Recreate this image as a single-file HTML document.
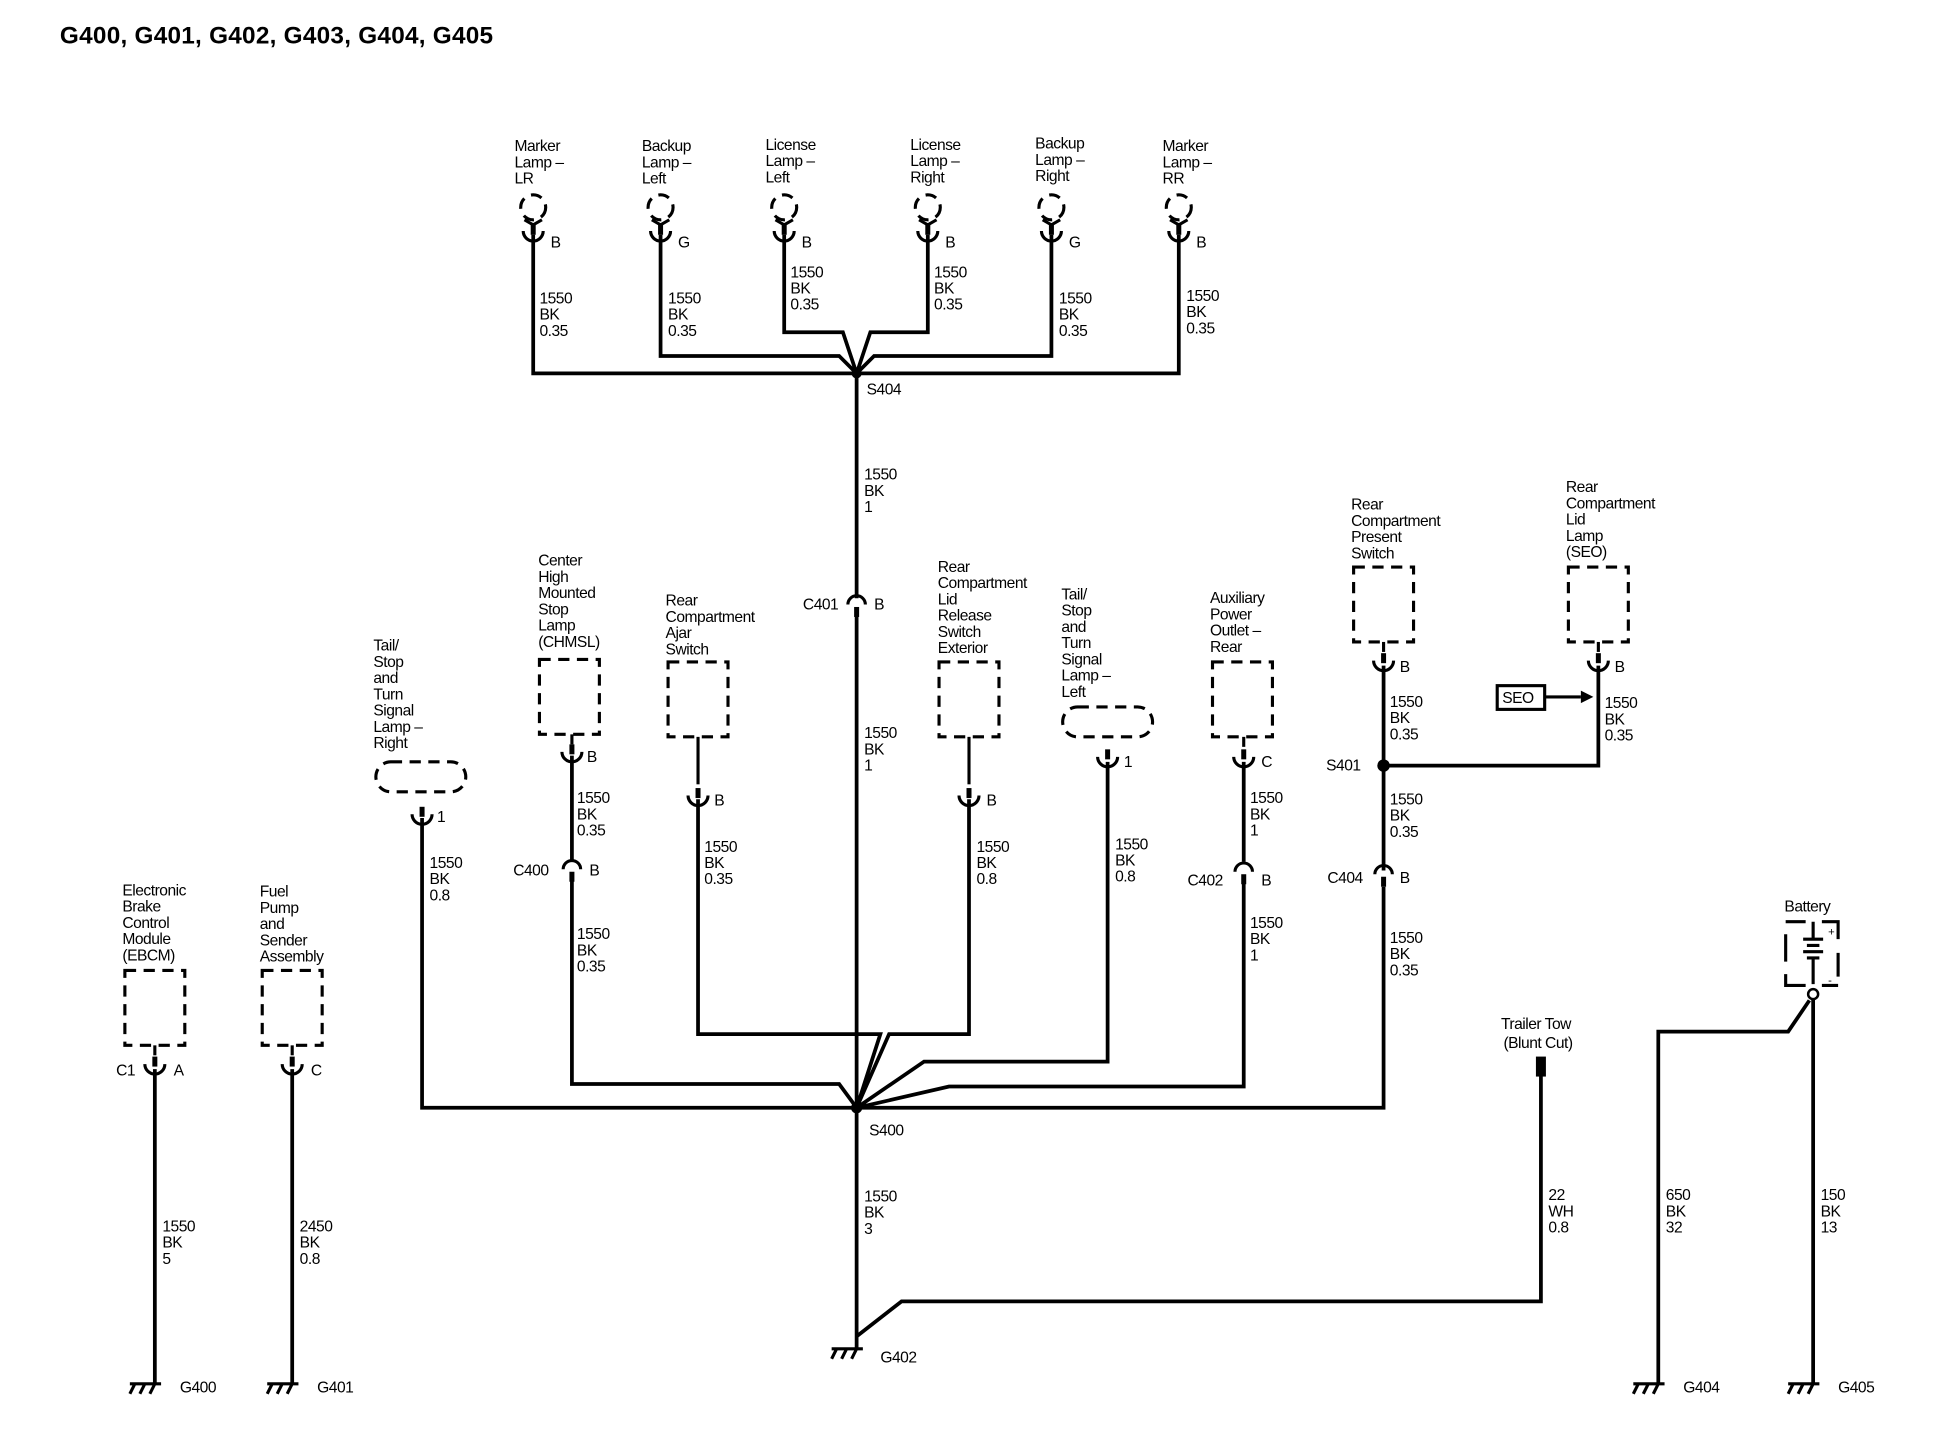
<!DOCTYPE html>
<html><head><meta charset="utf-8"><style>
html,body{margin:0;padding:0;background:#fff}
svg{display:block}
text{font-family:"Liberation Sans",Arial,sans-serif;font-size:12.5px;fill:#000;letter-spacing:-0.4px}
.w{stroke:#000;stroke-width:3;fill:none}
.d{stroke:#000;stroke-width:2.5;fill:none;stroke-dasharray:9 6}
.c{stroke:#000;stroke-width:2.5;fill:none}
</style></head><body>
<svg width="1948" height="1440" viewBox="0 0 1560 1153" preserveAspectRatio="none" xmlns="http://www.w3.org/2000/svg">
<defs>
<g id="lamp"><circle cx="0" cy="-22" r="10" class="d" stroke-dasharray="7 5"/><path d="M-7 -12 L0 -8 L7 -12" class="c"/><rect x="-2" y="-9" width="4" height="9"/><path d="M-8 -3 A8 8 0 0 0 8 -3" class="c"/></g>
<g id="cup"><rect x="-2" y="-10" width="4" height="8"/><path d="M-8 -4 A8 8 0 0 0 8 -4" class="c"/></g>
<g id="inl"><path d="M-7 6 A7 7 0 0 1 7 6" class="c"/><rect x="-2" y="8" width="4" height="8"/></g>
<g id="gnd"><path d="M-20 0 H5 M-16 0 l-4 8 M-8 0 l-4 8 M0 0 l-4 8" class="c"/></g>
</defs>
<text x="48" y="35" style="font-size:19.5px;font-weight:bold;letter-spacing:0.2px">G400, G401, G402, G403, G404, G405</text>

<g>
<text x="412" y="121"><tspan x="412">Marker</tspan><tspan x="412" dy="13">Lamp –</tspan><tspan x="412" dy="13">LR</tspan></text>
<text x="514" y="121"><tspan x="514">Backup</tspan><tspan x="514" dy="13">Lamp –</tspan><tspan x="514" dy="13">Left</tspan></text>
<text x="613" y="120"><tspan x="613">License</tspan><tspan x="613" dy="13">Lamp –</tspan><tspan x="613" dy="13">Left</tspan></text>
<text x="729" y="120"><tspan x="729">License</tspan><tspan x="729" dy="13">Lamp –</tspan><tspan x="729" dy="13">Right</tspan></text>
<text x="829" y="119"><tspan x="829">Backup</tspan><tspan x="829" dy="13">Lamp –</tspan><tspan x="829" dy="13">Right</tspan></text>
<text x="931" y="121"><tspan x="931">Marker</tspan><tspan x="931" dy="13">Lamp –</tspan><tspan x="931" dy="13">RR</tspan></text>
<use href="#lamp" x="427" y="188"/><use href="#lamp" x="529" y="188"/><use href="#lamp" x="628" y="188"/>
<use href="#lamp" x="743" y="188"/><use href="#lamp" x="842" y="188"/><use href="#lamp" x="944" y="188"/>
<text x="441" y="198">B</text><text x="543" y="198">G</text><text x="642" y="198">B</text>
<text x="757" y="198">B</text><text x="856" y="198">G</text><text x="958" y="198">B</text>
</g>
<path class="w" d="M427 188 V299 H944 V188 M529 188 V285 H672 L686 299 M628 188 V266 H675 L686 299 M743 188 V266 H697 L686 299 M842 188 V285 H700 L686 299"/>
<circle cx="686" cy="299" r="4"/>
<text x="694" y="316">S404</text>
<text><tspan x="432" y="243">1550</tspan><tspan x="432" dy="13">BK</tspan><tspan x="432" dy="13">0.35</tspan></text>
<text><tspan x="535" y="243">1550</tspan><tspan x="535" dy="13">BK</tspan><tspan x="535" dy="13">0.35</tspan></text>
<text><tspan x="633" y="222">1550</tspan><tspan x="633" dy="13">BK</tspan><tspan x="633" dy="13">0.35</tspan></text>
<text><tspan x="748" y="222">1550</tspan><tspan x="748" dy="13">BK</tspan><tspan x="748" dy="13">0.35</tspan></text>
<text><tspan x="848" y="243">1550</tspan><tspan x="848" dy="13">BK</tspan><tspan x="848" dy="13">0.35</tspan></text>
<text><tspan x="950" y="241">1550</tspan><tspan x="950" dy="13">BK</tspan><tspan x="950" dy="13">0.35</tspan></text>

<path class="w" d="M686 299 V479 M686 492 V1080"/>
<use href="#inl" x="686" y="478"/>
<text x="643" y="488">C401</text><text x="700" y="488">B</text>
<text><tspan x="692" y="384">1550</tspan><tspan x="692" dy="13">BK</tspan><tspan x="692" dy="13">1</tspan></text>
<text><tspan x="692" y="591">1550</tspan><tspan x="692" dy="13">BK</tspan><tspan x="692" dy="13">1</tspan></text>
<circle cx="686" cy="887" r="4.5"/>
<text x="696" y="909">S400</text>
<text><tspan x="692" y="962">1550</tspan><tspan x="692" dy="13">BK</tspan><tspan x="692" dy="13">3</tspan></text>
<use href="#gnd" x="686" y="1080"/><text x="705" y="1091">G402</text>
<path class="w" d="M686 1070 L722 1042 H1234 V858"/>
<rect x="1230" y="846" width="8" height="16"/>
<text x="1202" y="824">Trailer Tow</text><text x="1204" y="839">(Blunt Cut)</text>
<text><tspan x="1240" y="961">22</tspan><tspan x="1240" dy="13">WH</tspan><tspan x="1240" dy="13">0.8</tspan></text>

<path class="w" d="M338 655 V887 H1108 V710 M458 605 V690 M458 705 V868 H672 L686 887 M559 640 V828 H705 L686 887 M776 640 V828 H712 L686 887 M887 610 V850 H740 L686 887 M996 610 V690 M996 705 V870 H760 L686 887"/>

<text><tspan x="299" y="521">Tail/</tspan><tspan x="299" dy="13">Stop</tspan><tspan x="299" dy="13">and</tspan><tspan x="299" dy="13">Turn</tspan><tspan x="299" dy="13">Signal</tspan><tspan x="299" dy="13">Lamp –</tspan><tspan x="299" dy="13">Right</tspan></text>
<rect x="301" y="610" width="72" height="24" rx="12" class="d" stroke-dasharray="8 5"/>
<use href="#cup" x="338" y="656"/><text x="350" y="658">1</text>
<text><tspan x="344" y="695">1550</tspan><tspan x="344" dy="13">BK</tspan><tspan x="344" dy="13">0.8</tspan></text>

<text><tspan x="431" y="453">Center</tspan><tspan x="431" dy="13">High</tspan><tspan x="431" dy="13">Mounted</tspan><tspan x="431" dy="13">Stop</tspan><tspan x="431" dy="13">Lamp</tspan><tspan x="431" dy="13">(CHMSL)</tspan></text>
<rect x="432" y="528" width="48" height="60" class="d"/>
<path class="c" d="M458 588 V596"/><use href="#cup" x="458" y="606"/><text x="470" y="610">B</text>
<text><tspan x="462" y="643">1550</tspan><tspan x="462" dy="13">BK</tspan><tspan x="462" dy="13">0.35</tspan></text>
<use href="#inl" x="458" y="690"/><text x="411" y="701">C400</text><text x="472" y="701">B</text>
<text><tspan x="462" y="752">1550</tspan><tspan x="462" dy="13">BK</tspan><tspan x="462" dy="13">0.35</tspan></text>

<text><tspan x="533" y="485">Rear</tspan><tspan x="533" dy="13">Compartment</tspan><tspan x="533" dy="13">Ajar</tspan><tspan x="533" dy="13">Switch</tspan></text>
<rect x="535" y="530" width="48" height="60" class="d"/>
<path class="c" d="M559 590 V628"/><use href="#cup" x="559" y="641"/><text x="572" y="645">B</text>
<text><tspan x="564" y="682">1550</tspan><tspan x="564" dy="13">BK</tspan><tspan x="564" dy="13">0.35</tspan></text>

<text><tspan x="751" y="458">Rear</tspan><tspan x="751" dy="13">Compartment</tspan><tspan x="751" dy="13">Lid</tspan><tspan x="751" dy="13">Release</tspan><tspan x="751" dy="13">Switch</tspan><tspan x="751" dy="13">Exterior</tspan></text>
<rect x="752" y="530" width="48" height="60" class="d"/>
<path class="c" d="M776 590 V628"/><use href="#cup" x="776" y="641"/><text x="790" y="645">B</text>
<text><tspan x="782" y="682">1550</tspan><tspan x="782" dy="13">BK</tspan><tspan x="782" dy="13">0.8</tspan></text>

<text><tspan x="850" y="480">Tail/</tspan><tspan x="850" dy="13">Stop</tspan><tspan x="850" dy="13">and</tspan><tspan x="850" dy="13">Turn</tspan><tspan x="850" dy="13">Signal</tspan><tspan x="850" dy="13">Lamp –</tspan><tspan x="850" dy="13">Left</tspan></text>
<rect x="851" y="566" width="72" height="24" rx="12" class="d" stroke-dasharray="8 5"/>
<use href="#cup" x="887" y="610"/><text x="900" y="614">1</text>
<text><tspan x="893" y="680">1550</tspan><tspan x="893" dy="13">BK</tspan><tspan x="893" dy="13">0.8</tspan></text>

<text><tspan x="969" y="483">Auxiliary</tspan><tspan x="969" dy="13">Power</tspan><tspan x="969" dy="13">Outlet –</tspan><tspan x="969" dy="13">Rear</tspan></text>
<rect x="971" y="530" width="48" height="60" class="d"/>
<path class="c" d="M996 590 V598"/><use href="#cup" x="996" y="610"/><text x="1010" y="614">C</text>
<text><tspan x="1001" y="643">1550</tspan><tspan x="1001" dy="13">BK</tspan><tspan x="1001" dy="13">1</tspan></text>
<use href="#inl" x="996" y="692"/><text x="951" y="709">C402</text><text x="1010" y="709">B</text>
<text><tspan x="1001" y="743">1550</tspan><tspan x="1001" dy="13">BK</tspan><tspan x="1001" dy="13">1</tspan></text>

<text><tspan x="1082" y="408">Rear</tspan><tspan x="1082" dy="13">Compartment</tspan><tspan x="1082" dy="13">Present</tspan><tspan x="1082" dy="13">Switch</tspan></text>
<rect x="1084" y="454" width="48" height="60" class="d"/>
<path class="c" d="M1108 514 V522"/><use href="#cup" x="1108" y="533"/><text x="1121" y="538">B</text>
<path class="w" d="M1108 533 V697 M1108 613 H1280 V533"/>
<circle cx="1108" cy="613" r="5"/><text x="1062" y="617">S401</text>
<text><tspan x="1113" y="566">1550</tspan><tspan x="1113" dy="13">BK</tspan><tspan x="1113" dy="13">0.35</tspan></text>
<text><tspan x="1113" y="644">1550</tspan><tspan x="1113" dy="13">BK</tspan><tspan x="1113" dy="13">0.35</tspan></text>
<use href="#inl" x="1108" y="694"/><text x="1063" y="707">C404</text><text x="1121" y="707">B</text>
<text><tspan x="1113" y="755">1550</tspan><tspan x="1113" dy="13">BK</tspan><tspan x="1113" dy="13">0.35</tspan></text>

<text><tspan x="1254" y="394">Rear</tspan><tspan x="1254" dy="13">Compartment</tspan><tspan x="1254" dy="13">Lid</tspan><tspan x="1254" dy="13">Lamp</tspan><tspan x="1254" dy="13">(SEO)</tspan></text>
<rect x="1256" y="454" width="48" height="60" class="d"/>
<path class="c" d="M1280 514 V522"/><use href="#cup" x="1280" y="533"/><text x="1293" y="538">B</text>
<text><tspan x="1285" y="567">1550</tspan><tspan x="1285" dy="13">BK</tspan><tspan x="1285" dy="13">0.35</tspan></text>
<rect x="1199" y="549" width="38" height="19" fill="none" stroke="#000" stroke-width="2.5"/>
<text x="1203" y="563">SEO</text>
<path class="c" d="M1237 558 H1266"/><path d="M1266 553 L1276 558 L1266 563 Z"/>

<text><tspan x="98" y="717">Electronic</tspan><tspan x="98" dy="13">Brake</tspan><tspan x="98" dy="13">Control</tspan><tspan x="98" dy="13">Module</tspan><tspan x="98" dy="13">(EBCM)</tspan></text>
<rect x="100" y="777" width="48" height="60" class="d"/>
<path class="c" d="M124 837 V845"/><use href="#cup" x="124" y="856"/><text x="93" y="861">C1</text><text x="139" y="861">A</text>
<path class="w" d="M124 856 V1108"/>
<text><tspan x="130" y="986">1550</tspan><tspan x="130" dy="13">BK</tspan><tspan x="130" dy="13">5</tspan></text>
<use href="#gnd" x="124" y="1108"/><text x="144" y="1115">G400</text>
<text><tspan x="208" y="718">Fuel</tspan><tspan x="208" dy="13">Pump</tspan><tspan x="208" dy="13">and</tspan><tspan x="208" dy="13">Sender</tspan><tspan x="208" dy="13">Assembly</tspan></text>
<rect x="210" y="777" width="48" height="60" class="d"/>
<path class="c" d="M234 837 V845"/><use href="#cup" x="234" y="856"/><text x="249" y="861">C</text>
<path class="w" d="M234 856 V1108"/>
<text><tspan x="240" y="986">2450</tspan><tspan x="240" dy="13">BK</tspan><tspan x="240" dy="13">0.8</tspan></text>
<use href="#gnd" x="234" y="1108"/><text x="254" y="1115">G401</text>

<text x="1429" y="730">Battery</text>
<path class="c" stroke-width="2.5" d="M1430 738 H1446 M1459 738 H1472 V752 M1430 748 V770 M1472 763 V782 M1430 780 V789 H1446 M1459 789 H1472"/>
<path class="c" d="M1452 738 V751 M1444 752 H1460 M1447 757 H1457 M1444 762 H1460 M1447 767 H1457 M1452 768 V788"/>
<text x="1464" y="749" style="font-size:9px">+</text><text x="1464" y="788" style="font-size:9px">-</text>
<circle cx="1452" cy="796" r="4" fill="#fff" stroke="#000" stroke-width="2"/>
<path class="w" d="M1452 800 V1108 M1449 801 L1432 826 H1328 V1108"/>
<text><tspan x="1334" y="961">650</tspan><tspan x="1334" dy="13">BK</tspan><tspan x="1334" dy="13">32</tspan></text>
<text><tspan x="1458" y="961">150</tspan><tspan x="1458" dy="13">BK</tspan><tspan x="1458" dy="13">13</tspan></text>
<use href="#gnd" x="1328" y="1108"/><text x="1348" y="1115">G404</text>
<use href="#gnd" x="1452" y="1108"/><text x="1472" y="1115">G405</text>
</svg>
</body></html>
